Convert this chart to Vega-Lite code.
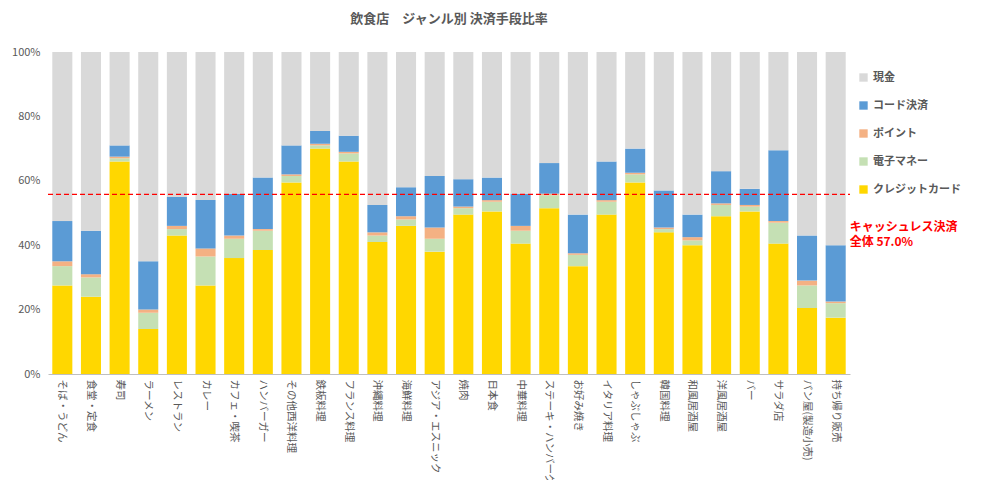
{
  "$schema": "https://vega.github.io/schema/vega-lite/v6.json",
  "autosize": "none",
  "width": 802,
  "height": 322,
  "padding": {"left": 48, "top": 52, "right": 138, "bottom": 106},
  "title": {"text": "飲食店　ジャンル別 決済手段比率", "fontSize": 13, "fontWeight": "bold", "color": "#595959", "offset": 20, "font": "Noto Sans CJK JP"},
  "config": {"font": "Noto Sans CJK JP", "view": {"stroke": null}},
  "data": {"values": [
    {"g": "そば・うどん", "クレジットカード": 27.5, "電子マネー": 6, "ポイント": 1.5, "コード決済": 12.5, "現金": 52.5},
    {"g": "食堂・定食", "クレジットカード": 24, "電子マネー": 6, "ポイント": 1, "コード決済": 13.5, "現金": 55.5},
    {"g": "寿司", "クレジットカード": 66, "電子マネー": 1, "ポイント": 0.5, "コード決済": 3.5, "現金": 29},
    {"g": "ラーメン", "クレジットカード": 14, "電子マネー": 5, "ポイント": 1, "コード決済": 15, "現金": 65},
    {"g": "レストラン", "クレジットカード": 43, "電子マネー": 2, "ポイント": 1, "コード決済": 9, "現金": 45},
    {"g": "カレー", "クレジットカード": 27.5, "電子マネー": 9, "ポイント": 2.5, "コード決済": 15, "現金": 46},
    {"g": "カフェ・喫茶", "クレジットカード": 36, "電子マネー": 6, "ポイント": 1, "コード決済": 13, "現金": 44},
    {"g": "ハンバーガー", "クレジットカード": 38.5, "電子マネー": 6, "ポイント": 0.5, "コード決済": 16, "現金": 39},
    {"g": "その他西洋料理", "クレジットカード": 59.5, "電子マネー": 2, "ポイント": 0.5, "コード決済": 9, "現金": 29},
    {"g": "鉄板料理", "クレジットカード": 70, "電子マネー": 1, "ポイント": 0.5, "コード決済": 4, "現金": 24.5},
    {"g": "フランス料理", "クレジットカード": 66, "電子マネー": 2.5, "ポイント": 0.5, "コード決済": 5, "現金": 26},
    {"g": "沖縄料理", "クレジットカード": 41, "電子マネー": 2, "ポイント": 1, "コード決済": 8.5, "現金": 47.5},
    {"g": "海鮮料理", "クレジットカード": 46, "電子マネー": 2, "ポイント": 1, "コード決済": 9, "現金": 42},
    {"g": "アジア・エスニック", "クレジットカード": 38, "電子マネー": 4, "ポイント": 3.5, "コード決済": 16, "現金": 38.5},
    {"g": "焼肉", "クレジットカード": 49.5, "電子マネー": 2, "ポイント": 0.5, "コード決済": 8.5, "現金": 39.5},
    {"g": "日本食", "クレジットカード": 50.5, "電子マネー": 3, "ポイント": 0.5, "コード決済": 7, "現金": 39},
    {"g": "中華料理", "クレジットカード": 40.5, "電子マネー": 4, "ポイント": 1.5, "コード決済": 10, "現金": 44},
    {"g": "ステーキ・ハンバーグ", "クレジットカード": 51.5, "電子マネー": 4, "ポイント": 0.5, "コード決済": 9.5, "現金": 34.5},
    {"g": "お好み焼き", "クレジットカード": 33.5, "電子マネー": 3.5, "ポイント": 0.5, "コード決済": 12, "現金": 50.5},
    {"g": "イタリア料理", "クレジットカード": 49.5, "電子マネー": 4, "ポイント": 0.5, "コード決済": 12, "現金": 34},
    {"g": "しゃぶしゃぶ", "クレジットカード": 59.5, "電子マネー": 2.5, "ポイント": 0.5, "コード決済": 7.5, "現金": 30},
    {"g": "韓国料理", "クレジットカード": 44, "電子マネー": 1, "ポイント": 0.5, "コード決済": 11.5, "現金": 43},
    {"g": "和風居酒屋", "クレジットカード": 40, "電子マネー": 1.5, "ポイント": 1, "コード決済": 7, "現金": 50.5},
    {"g": "洋風居酒屋", "クレジットカード": 49, "電子マネー": 3.5, "ポイント": 0.5, "コード決済": 10, "現金": 37},
    {"g": "バー", "クレジットカード": 50.5, "電子マネー": 1.5, "ポイント": 0.5, "コード決済": 5, "現金": 42.5},
    {"g": "サラダ店", "クレジットカード": 40.5, "電子マネー": 6.5, "ポイント": 0.5, "コード決済": 22, "現金": 30.5},
    {"g": "パン屋(製造小売)", "クレジットカード": 20.5, "電子マネー": 7, "ポイント": 1.5, "コード決済": 14, "現金": 57},
    {"g": "持ち帰り販売", "クレジットカード": 17.5, "電子マネー": 4.5, "ポイント": 0.5, "コード決済": 17.5, "現金": 60}
  ]},
  "encoding": {
    "x": {"field": "g", "type": "nominal", "sort": null, "title": null,
      "scale": {"paddingInner": 0.3, "paddingOuter": 0.15},
      "axis": {"labelAngle": 90, "labelFontSize": 10.5, "labelLimit": 200, "labelColor": "#595959", "domainColor": "#BFBFBF", "ticks": false, "labelPadding": 5}}
  },
  "layer": [
    {
      "transform": [
        {"fold": ["クレジットカード", "電子マネー", "ポイント", "コード決済", "現金"], "as": ["k", "v"]},
        {"calculate": "indexof(['クレジットカード', '電子マネー', 'ポイント', 'コード決済', '現金'], datum.k)", "as": "o"}
      ],
      "mark": {"type": "bar"},
      "encoding": {
        "y": {"field": "v", "type": "quantitative", "stack": "zero", "title": null,
          "scale": {"domain": [0, 100]},
          "axis": {"values": [0, 10, 20, 30, 40, 50, 60, 70, 80, 90, 100], "labelOverlap": false, "labelExpr": "datum.value + '%'", "grid": false, "domain": false, "ticks": false, "labelFontSize": 11, "labelColor": "#595959", "labelPadding": 8}},
        "order": {"field": "o", "type": "quantitative", "sort": "ascending"},
        "color": {"field": "k", "type": "nominal",
          "scale": {"domain": ["現金", "コード決済", "ポイント", "電子マネー", "クレジットカード"], "range": ["#D9D9D9", "#5B9BD5", "#F4B183", "#C5E0B4", "#FFD700"]},
          "legend": {"title": null, "orient": "none", "legendX": 810, "legendY": 20, "symbolType": "square", "symbolSize": 70, "rowPadding": 16, "labelFontSize": 11, "labelFontWeight": "bold", "labelColor": "#595959"}}
      }
    },
    {
      "data": {"values": [{}]},
      "mark": {"type": "rule", "color": "#FF0000", "strokeDash": [5, 3], "strokeWidth": 1.2},
      "encoding": {"y": {"datum": 55.8, "type": "quantitative"}, "x": {"value": 0}, "x2": {"value": 802}}
    },
    {
      "data": {"values": [{}]},
      "mark": {"type": "text", "color": "#FF0000", "fontWeight": "bold", "fontSize": 12, "align": "left", "dx": 14, "lineHeight": 15, "text": ["キャッシュレス決済", "全体 57.0%"]},
      "encoding": {"x": {"datum": "持ち帰り販売"}, "y": {"datum": 45.5, "type": "quantitative"}}
    }
  ]
}
